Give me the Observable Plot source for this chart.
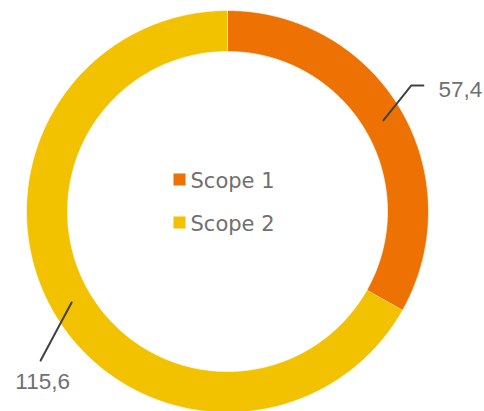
<!DOCTYPE html>
<html>
<head>
<meta charset="utf-8">
<script src="https://cdn.jsdelivr.net/npm/d3@7"></script>
<script src="https://cdn.jsdelivr.net/npm/@observablehq/plot@0.6"></script>
<style>
  html, body { margin: 0; padding: 0; background: #fff; }
  svg { display: block; }
</style>
</head>
<body>
<div id="chart"></div>
<script>
// ---- data ----
const categories = ["Scope 1", "Scope 2"];
const values = [57.4, 115.6];
const valueLabels = ["57,4", "115,6"];
const colors = ["#EE7203", "#F2C200"];

// ---- layout (pixel units relative to donut centre) ----
const W = 484, H = 411;
const cx = 227, cy = 211;
const R = 201, r0 = 160;
const font = "DejaVu Sans, sans-serif";
const labelFont = "Liberation Sans, Arial, sans-serif";

const pie = d3.pie().sort(null).value(d => d.value)(
  categories.map((c, i) => ({category: c, value: values[i], label: valueLabels[i], color: colors[i]}))
);

// ring polygons
const ring = [];
for (const s of pie) {
  const n = Math.max(8, Math.ceil((s.endAngle - s.startAngle) / 0.01));
  for (let k = 0; k <= n; k++) {
    const a = s.startAngle + (s.endAngle - s.startAngle) * k / n;
    ring.push({category: s.data.category, x: R * Math.sin(a), y: -R * Math.cos(a)});
  }
  for (let k = n; k >= 0; k--) {
    const a = s.startAngle + (s.endAngle - s.startAngle) * k / n;
    ring.push({category: s.data.category, x: r0 * Math.sin(a), y: -r0 * Math.cos(a)});
  }
}

// leader lines from slice centroid
const leaderStyle = [
  {dx: 28, dy: -35, tail: 12, tdx: 15, tdy: 4, anchor: "start"},
  {dx: -31, dy: 58, tail: 0, tdx: 2, tdy: 21, anchor: "middle"}
];
const leaders = [], labels = [];
pie.forEach((s, i) => {
  const mid = (s.startAngle + s.endAngle) / 2;
  const rm = (R + r0) / 2;
  const c = {x: rm * Math.sin(mid), y: -rm * Math.cos(mid)};
  const st = leaderStyle[i];
  const e = {x: c.x + st.dx, y: c.y + st.dy};
  const t = {x: e.x + st.tail, y: e.y};
  leaders.push({id: i, x: c.x, y: c.y}, {id: i, x: e.x, y: e.y}, {id: i, x: t.x, y: t.y});
  labels.push({x: t.x + st.tdx, y: t.y + st.tdy, text: s.data.label, anchor: st.anchor});
});

// centre legend
const legend = categories.map((c, i) => ({category: c, x: -48, y: -32 + 43 * i}));

const chart = Plot.plot({
  width: W, height: H,
  margin: 0,
  x: {domain: [-cx, W - cx], range: [0, W], axis: null},
  y: {domain: [-cy, H - cy], range: [0, H], axis: null},
  color: {domain: categories, range: colors},
  style: {fontFamily: font, background: "#fff"},
  marks: [
    Plot.line(ring, {x: "x", y: "y", z: "category", fill: "category", stroke: "white", strokeWidth: 0.6, curve: "linear"}),
    Plot.line(leaders, {x: "x", y: "y", z: "id", stroke: "#404040", strokeWidth: 2}),
    Plot.text(labels.filter(d => d.anchor === "start"), {x: "x", y: "y", text: "text", textAnchor: "start", fill: "#707070", fontSize: 22.5, fontFamily: labelFont, lineAnchor: "middle"}),
    Plot.text(labels.filter(d => d.anchor === "middle"), {x: "x", y: "y", text: "text", textAnchor: "middle", fill: "#707070", fontSize: 22.5, fontFamily: labelFont, lineAnchor: "middle"}),
    Plot.dot(legend, {x: "x", y: "y", symbol: "square", r: 6.8, fill: "category", stroke: null}),
    Plot.text(legend, {x: "x", y: "y", text: "category", dx: 11, dy: 2, textAnchor: "start", fill: "#707070", fontSize: 21, lineAnchor: "middle"})
  ]
});
document.getElementById("chart").appendChild(chart);
</script>
</body>
</html>
